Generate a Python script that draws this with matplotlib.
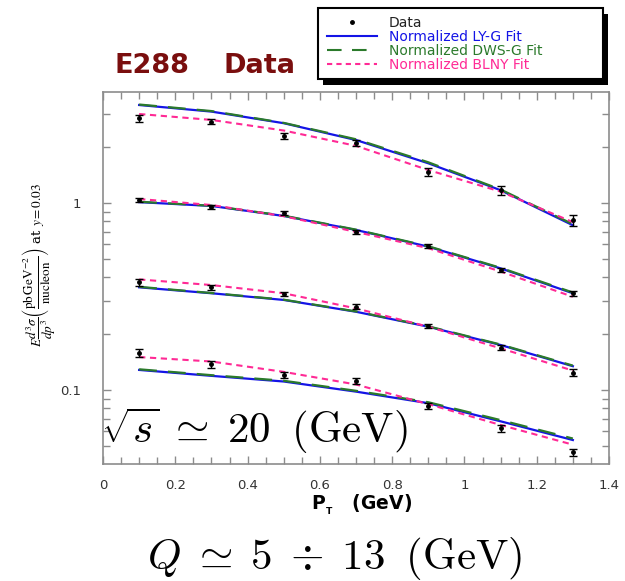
import matplotlib.pyplot as plt
from matplotlib.ticker import LogLocator, NullFormatter, MultipleLocator
from matplotlib.lines import Line2D
from matplotlib.patches import Rectangle

plt.rcParams['font.family'] = 'DejaVu Sans'

# P_T bins (GeV)
pt = [0.1, 0.3, 0.5, 0.7, 0.9, 1.1, 1.3]

# E288 data, four Q bins (top to bottom)
data_1 = [2.84, 2.72, 2.28, 2.09, 1.47, 1.17, 0.81]
data_2 = [1.04, 0.955, 0.887, 0.70, 0.589, 0.438, 0.329]
data_3 = [0.377, 0.354, 0.326, 0.279, 0.220, 0.168, 0.124]
data_4 = [0.158, 0.137, 0.120, 0.112, 0.082, 0.0625, 0.0464]
# relative errors (%)
err_1 = [4.2, 2.9, 4.0, 3.7, 5.0, 5.3, 7.0]
err_2 = [2.5, 2.5, 2.5, 2.5, 2.5, 2.5, 3.0]
err_3 = [4.0, 3.0, 3.0, 3.0, 3.0, 3.0, 4.0]
err_4 = [5.0, 4.5, 4.0, 4.0, 3.5, 4.5, 4.0]

# LY-G fit
lyg_1 = [3.34, 3.08, 2.67, 2.17, 1.63, 1.17, 0.76]
lyg_2 = [1.01, 0.964, 0.852, 0.717, 0.584, 0.447, 0.329]
lyg_3 = [0.354, 0.329, 0.303, 0.262, 0.218, 0.174, 0.134]
lyg_4 = [0.128, 0.119, 0.111, 0.098, 0.085, 0.068, 0.054]
# DWS-G fit
dws_1 = [3.36, 3.10, 2.68, 2.19, 1.65, 1.18, 0.77]
dws_2 = [1.015, 0.966, 0.855, 0.720, 0.587, 0.450, 0.332]
dws_3 = [0.356, 0.330, 0.304, 0.263, 0.219, 0.175, 0.135]
dws_4 = [0.129, 0.120, 0.112, 0.099, 0.086, 0.069, 0.055]
# BLNY fit
blny_1 = [2.99, 2.78, 2.44, 2.02, 1.50, 1.15, 0.79]
blny_2 = [1.05, 0.975, 0.85, 0.70, 0.573, 0.43, 0.315]
blny_3 = [0.39, 0.364, 0.329, 0.273, 0.218, 0.167, 0.127]
blny_4 = [0.150, 0.142, 0.125, 0.107, 0.084, 0.065, 0.051]

c_blue = '#1414e6'
c_green = '#2b7a2b'
c_pink = '#ff2a95'
c_frame = '#8c8c8c'

fig = plt.figure(figsize=(6.25, 5.81), dpi=100)
ax = fig.add_axes([103/625, 1-464/581, 506/625, 372/581])

for fit in [lyg_1, lyg_2, lyg_3, lyg_4]:
    ax.plot(pt, fit, color=c_blue, lw=1.6, zorder=2)
for fit in [dws_1, dws_2, dws_3, dws_4]:
    ax.plot(pt, fit, color=c_green, lw=1.6, dashes=(8, 5), zorder=3)
for fit in [blny_1, blny_2, blny_3, blny_4]:
    ax.plot(pt, fit, color=c_pink, lw=1.5, dashes=(3, 2.2), zorder=4)

for d, e in [(data_1, err_1), (data_2, err_2), (data_3, err_3), (data_4, err_4)]:
    yerr = [v * p / 100 for v, p in zip(d, e)]
    ax.errorbar(pt, d, yerr=yerr, fmt='o', color='black', ms=2.5,
                capsize=3, elinewidth=1, capthick=1, zorder=5)

ax.set_yscale('log')
ax.set_xlim(0, 1.4)
ax.set_ylim(0.0402, 3.92)
ax.set_yticks([0.1, 1], ['0.1', '1'])
ax.yaxis.set_minor_locator(LogLocator(base=10, subs=range(2, 10)))
ax.yaxis.set_minor_formatter(NullFormatter())
ax.set_xticks([0, 0.2, 0.4, 0.6, 0.8, 1.0, 1.2, 1.4],
              ['0', '0.2', '0.4', '0.6', '0.8', '1', '1.2', '1.4'])
ax.xaxis.set_minor_locator(MultipleLocator(0.05))

for s in ax.spines.values():
    s.set_color(c_frame)
    s.set_linewidth(1.2)
ax.tick_params(which='both', direction='in', top=True, right=True,
               color=c_frame, width=1, labelcolor='#333333', labelsize=9.5)
ax.tick_params(which='major', length=6)
ax.tick_params(which='minor', length=5)
ax.tick_params(axis='y', pad=16)
ax.tick_params(axis='x', pad=11)

ax.set_xlabel(r'P$_{_\mathbf{T}}$   (GeV)', fontsize=13.5, fontweight='bold')
ax.xaxis.set_label_coords(0.51, -0.075)
ax.set_ylabel(r'$E\dfrac{d^3\sigma}{dp^3}\left(\dfrac{\mathrm{pb\,GeV^{-2}}}{\mathrm{nucleon}}\right)$ at $y = 0.03$',
              fontsize=9.5, family='serif', math_fontfamily='stix')
ax.yaxis.set_label_coords(-0.088, 0.535)

ax.text(-0.003, 0.09, r'$\sqrt{s}\;\simeq\;20\;\;(\mathrm{GeV})$', transform=ax.transAxes,
        fontsize=31, math_fontfamily='cm', ha='left', va='center', zorder=6)
fig.text(335/625, 1-559/581, r'$Q\;\simeq\;5\;\div\;13\;\;(\mathrm{GeV})$',
         fontsize=31, math_fontfamily='cm', ha='center', va='center')

fig.text(152/625, 1-66/581, 'E288', color='#7a0e0e', fontsize=19.5,
         fontweight='bold', ha='center', va='center')
fig.text(260/625, 1-66/581, 'Data', color='#7a0e0e', fontsize=19.5,
         fontweight='bold', ha='center', va='center')

# legend box with hard shadow
fig.patches.append(Rectangle((323/625, 1-85/581), 285/625, 71/581, transform=fig.transFigure,
                             facecolor='black', edgecolor='none', zorder=8))
fig.patches.append(Rectangle((318/625, 1-79/581), 285/625, 71/581, transform=fig.transFigure,
                             facecolor='white', edgecolor='black', lw=1.5, zorder=9))

handles = [Line2D([], [], ls='none', marker='o', ms=2.5, color='black'),
           Line2D([], [], color=c_blue, lw=1.5),
           Line2D([], [], color=c_green, lw=1.5, dashes=(7, 5)),
           Line2D([], [], color=c_pink, lw=1.5, dashes=(2.5, 2))]
labels = ['Data', 'Normalized LY-G Fit', 'Normalized DWS-G Fit', 'Normalized BLNY Fit']
leg = fig.legend(handles, labels, loc='center left', bbox_to_anchor=(327/625, 1-44/581),
                 fontsize=10, handlelength=3.6, labelspacing=0.0, borderpad=0.0,
                 frameon=False, handletextpad=0.85, borderaxespad=0)
leg.set_zorder(10)
for t, c in zip(leg.get_texts(), ['#222222', c_blue, c_green, c_pink]):
    t.set_color(c)

fig.savefig('out.png', dpi=100)
